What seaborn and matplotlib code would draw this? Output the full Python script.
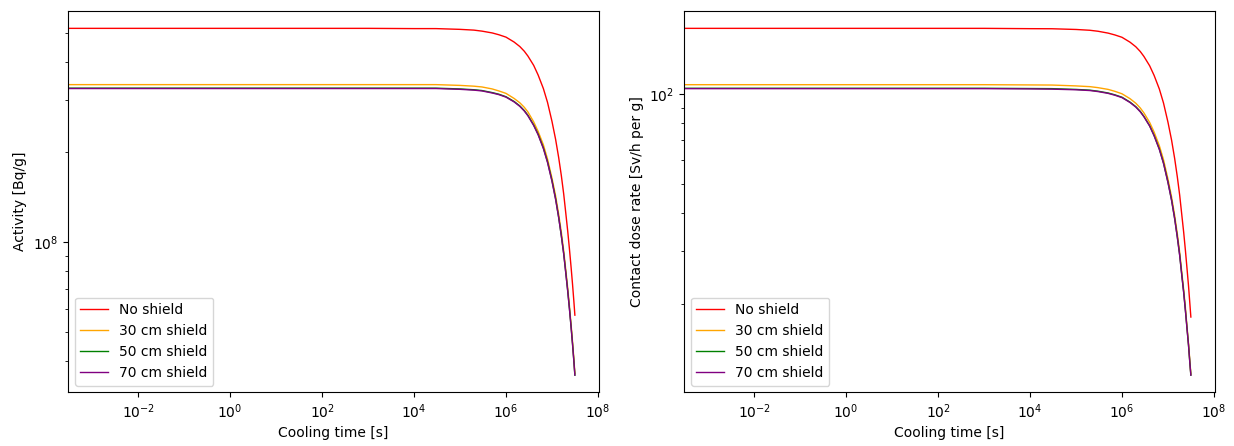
import numpy as np
import pandas as pd
import seaborn as sns
from matplotlib import pyplot as plt

# cooling times [s]
cooling_time = [0, 1e-3, 1e-1, 1e1, 1e3, 1e4, 3e4, 1e5, 2e5, 3e5, 5e5, 7e5, 1e6, 1.5e6, 2e6, 2.5e6,
                3e6, 4e6, 5e6, 6.5e6, 8e6, 1e7, 1.2e7, 1.4e7, 1.6e7, 1.8e7, 2e7, 2.2e7, 2.4e7,
                2.6e7, 2.8e7, 3.0e7, 3.15e7]

# activity [Bq/g]
act_no_shield = [5.20e8, 5.20e8, 5.20e8, 5.20e8, 5.20e8, 5.19e8, 5.19e8, 5.16e8, 5.13e8, 5.09e8, 5.02e8,
                 4.95e8, 4.86e8, 4.68e8, 4.52e8, 4.36e8, 4.20e8, 3.91e8, 3.63e8, 3.27e8, 2.94e8,
                 2.54e8, 2.21e8, 1.92e8, 1.67e8, 1.45e8, 1.25e8, 1.09e8, 9.49e7, 8.28e7, 7.24e7,
                 6.32e7, 5.70e7]
act_30cm = [3.37e8, 3.37e8, 3.37e8, 3.37e8, 3.37e8, 3.37e8, 3.37e8, 3.35e8, 3.33e8, 3.31e8, 3.26e8,
            3.21e8, 3.15e8, 3.03e8, 2.93e8, 2.83e8, 2.73e8, 2.53e8, 2.35e8, 2.12e8, 1.90e8,
            1.64e8, 1.43e8, 1.24e8, 1.08e8, 9.36e7, 8.07e7, 7.03e7, 6.12e7, 5.33e7, 4.65e7,
            4.06e7, 3.64e7]
act_50cm = [3.28e8, 3.28e8, 3.28e8, 3.28e8, 3.28e8, 3.28e8, 3.28e8, 3.26e8, 3.24e8, 3.22e8, 3.17e8,
            3.13e8, 3.07e8, 2.96e8, 2.86e8, 2.76e8, 2.66e8, 2.47e8, 2.30e8, 2.07e8, 1.86e8,
            1.61e8, 1.40e8, 1.21e8, 1.05e8, 9.16e7, 7.90e7, 6.88e7, 5.99e7, 5.23e7, 4.57e7,
            3.99e7, 3.59e7]
act_70cm = [3.27e8, 3.27e8, 3.27e8, 3.27e8, 3.27e8, 3.27e8, 3.27e8, 3.25e8, 3.23e8, 3.21e8, 3.16e8,
            3.12e8, 3.06e8, 2.95e8, 2.85e8, 2.75e8, 2.65e8, 2.46e8, 2.29e8, 2.06e8, 1.85e8,
            1.60e8, 1.39e8, 1.21e8, 1.05e8, 9.14e7, 7.88e7, 6.87e7, 5.98e7, 5.22e7, 4.56e7,
            3.98e7, 3.59e7]

# contact dose rate [Sv/h per g]
dose_no_shield = [165.0, 165.0, 165.0, 165.0, 165.0, 164.6, 164.5, 163.6, 162.6, 161.4, 159.1,
                  156.9, 154.1, 148.4, 143.3, 138.2, 133.1, 123.9, 115.1, 103.7, 93.2,
                  80.5, 70.1, 60.9, 52.9, 46.0, 39.6, 34.6, 30.1, 26.2, 23.0, 20.0, 18.1]
dose_30cm = [107.2, 107.2, 107.2, 107.2, 107.2, 107.0, 106.9, 106.2, 105.6, 104.8, 103.4,
             101.9, 100.0, 96.3, 93.0, 89.7, 86.4, 80.3, 74.6, 67.2, 60.4,
             52.1, 45.4, 39.4, 34.2, 29.7, 25.5, 22.3, 19.4, 16.8, 14.8, 12.9, 11.7]
dose_50cm = [104.3, 104.3, 104.3, 104.3, 104.3, 104.1, 104.0, 103.4, 102.8, 102.0, 100.6,
             99.2, 97.4, 93.8, 90.6, 87.4, 84.1, 78.3, 72.7, 65.5, 58.9,
             50.9, 44.3, 38.5, 33.4, 29.1, 25.0, 21.9, 19.0, 16.6, 14.6, 12.7, 11.6]
dose_70cm = [104.0, 104.0, 104.0, 104.0, 104.0, 103.8, 103.6, 103.1, 102.5, 101.7, 100.3,
             98.9, 97.1, 93.5, 90.3, 87.1, 83.9, 78.1, 72.5, 65.3, 58.7,
             50.7, 44.2, 38.4, 33.3, 29.0, 24.9, 21.8, 19.0, 16.5, 14.6, 12.7, 11.6]

labels = ['No shield', '30 cm shield', '50 cm shield', '70 cm shield']
colors = ['red', 'orange', 'green', 'purple']


def plot_panel(ax, series, ylabel):
    for vals, lab, col in zip(series, labels, colors):
        df = pd.DataFrame({'t': cooling_time, 'v': vals})
        sns.lineplot(data=df, x='t', y='v', ax=ax, color=col, label=lab, linewidth=1,
                     estimator=None, sort=False)
    # log scales set after plotting so t=0 is clipped to the left edge
    ax.set_xscale('log')
    ax.set_yscale('log')
    ax.set_xlabel('Cooling time [s]')
    ax.set_ylabel(ylabel)
    ax.legend(loc='lower left')


fig, axes = plt.subplots(1, 2, figsize=(12.34, 4.46), dpi=100)
plt.subplots_adjust(left=0.0551, right=0.9846, bottom=0.12, top=0.9753, wspace=0.16)

plot_panel(axes[0], [act_no_shield, act_30cm, act_50cm, act_70cm], 'Activity [Bq/g]')
plot_panel(axes[1], [dose_no_shield, dose_30cm, dose_50cm, dose_70cm], 'Contact dose rate [Sv/h per g]')

plt.savefig('out.png', dpi=100)
plt.close()
